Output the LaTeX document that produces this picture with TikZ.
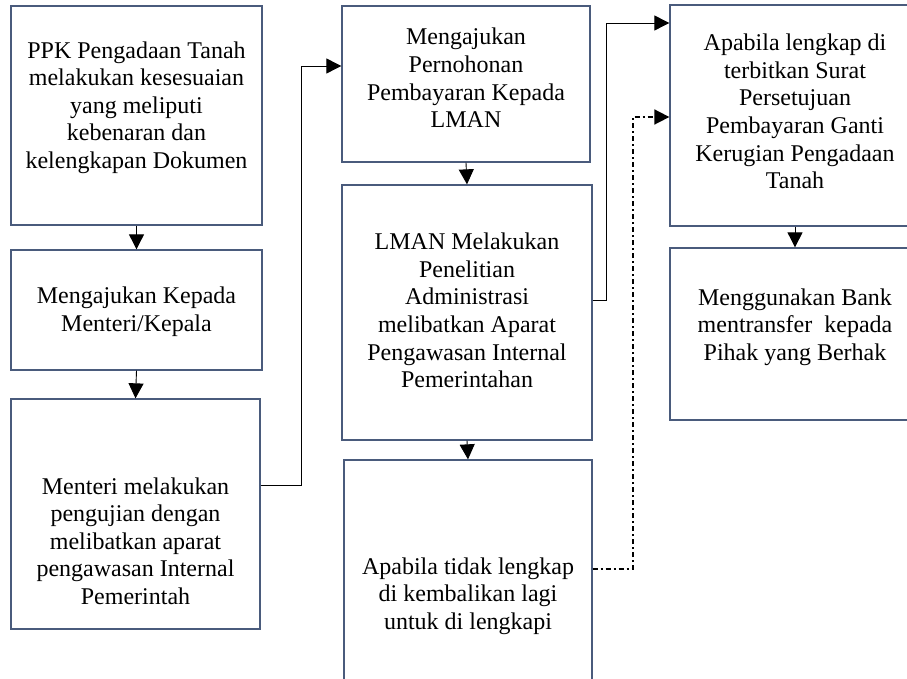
\documentclass[tikz,border=0pt]{standalone}
\usepackage{fontspec}
\setmainfont{Liberation Serif}
\usetikzlibrary{arrows.meta}
\definecolor{boxline}{HTML}{4A5B7C}

\begin{document}
\begin{tikzpicture}[x=1pt,y=-1pt,
    box/.style 2 args={draw=boxline,line width=1.3pt,minimum width=#1,minimum height=#2,inner sep=0pt},
    txt/.style={align=center,inner sep=0pt,font=\fontsize{24}{27.6}\selectfont},
    arr/.style={line width=0.9pt,-{Triangle[length=15pt,width=15pt]}},
    dotarr/.style={arr,line width=1.7pt,dash pattern=on 5pt off 3pt on 2pt off 3pt}]
    \clip (0,0) rectangle (907,679);
    % kolom kiri
    \node[box={251}{219}] (a) at (136.5,115.5) {};
    \node[box={251}{120}] (b) at (136.5,310) {};
    \node[box={249}{230}] (c) at (135.5,514) {};
    % kolom tengah
    \node[box={248}{156}] (d) at (466,84) {};
    \node[box={250}{255}] (e) at (467,312.5) {};
    \node[box={248}{272}] (f) at (468,596) {};
    % kolom kanan
    \node[box={250}{221}] (g) at (795,115.5) {};
    \node[box={250}{172}] (h) at (795,334) {};
    % teks
    \node[txt] (a-t) at ([yshift=8pt]a.center) {PPK Pengadaan Tanah\\melakukan kesesuaian\\yang meliputi\\kebenaran dan\\kelengkapan Dokumen};
    \node[txt] (b-t) at ([yshift=-2pt]b.center) {Mengajukan Kepada\\Menteri/Kepala};
    \node[txt] (c-t) at ([yshift=-27pt]c.center) {Menteri melakukan\\pengujian dengan\\melibatkan aparat\\pengawasan Internal\\Pemerintah};
    \node[txt] (d-t) at ([yshift=6pt]d.center) {Mengajukan\\Pernohonan\\Pembayaran Kepada\\LMAN};
    \node[txt] (e-t) at ([yshift=2pt]e.center) {LMAN Melakukan\\Penelitian\\Administrasi\\melibatkan Aparat\\Pengawasan Internal\\Pemerintahan};
    \node[txt] (f-t) at (f.center) {Apabila tidak lengkap\\di kembalikan lagi\\untuk di lengkapi};
    \node[txt] (g-t) at ([yshift=4pt]g.center) {Apabila lengkap di\\terbitkan Surat\\Persetujuan\\Pembayaran Ganti\\Kerugian Pengadaan\\Tanah};
    \node[txt] (h-t) at ([yshift=7pt]h.center) {Menggunakan Bank\\mentransfer\ \ kepada\\Pihak yang Berhak};
    % panah
    \foreach \s/\t in {a/b,b/c,d/e,e/f,g/h}
        \draw[arr] (\s.south) -- (\t.north);
    \draw[arr] ([yshift=29pt]c.east) -- ++(41,0) |- ([yshift=18pt]d.west);
    \draw[arr] ([yshift=12.5pt]e.east) -- ++(14,0) |- ([yshift=92.5pt]g.west);
    \draw[dotarr] ([yshift=27pt]f.east) -- ++(40,0) |- ([yshift=-1.5pt]g.west);
\end{tikzpicture}
\end{document}
